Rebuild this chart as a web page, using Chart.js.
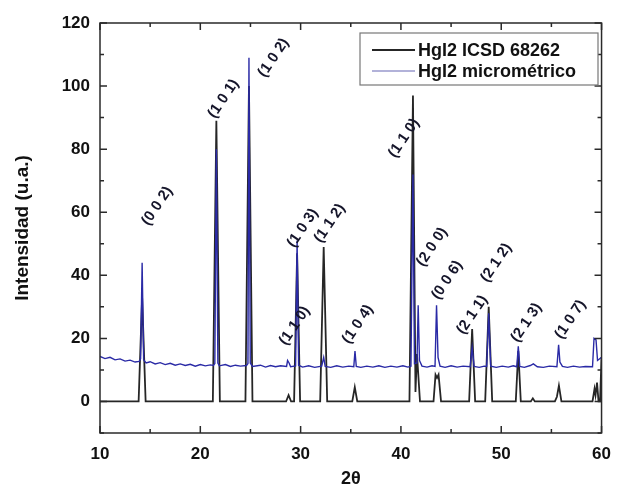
<!DOCTYPE html>
<html>
<head>
<meta charset="utf-8">
<script src="https://cdn.jsdelivr.net/npm/chart.js@4.4.1/dist/chart.umd.min.js"></script>
<style>
  html, body { margin: 0; padding: 0; background: #fff; }
  #wrap { width: 622px; height: 498px; position: relative; }
</style>
</head>
<body>
<div id="wrap"><canvas id="grafico"></canvas></div>
<script>
// HgI2 ICSD 68262 (patron calculado)
const icsdX = [10, 13.85, 14.2, 14.55, 21.25, 21.6, 21.95, 24.5, 24.85, 25.2, 28.55, 28.8, 29.05, 29.35, 29.65, 29.95,
  31.95, 32.3, 32.65, 35.15, 35.4, 35.65, 40.85, 41.2, 41.45, 41.6, 41.9, 43.25, 43.45, 43.6, 43.75, 44.0,
  46.8, 47.1, 47.4, 48.4, 48.75, 49.1, 51.45, 51.7, 51.95, 52.95, 53.15, 53.35, 55.35, 55.55, 55.75, 56.0,
  59.1, 59.3, 59.4, 59.55, 59.7, 59.85, 60];
const icsdY = [0, 0, 33, 0, 0, 89, 0, 0, 100, 0, 0, 2, 0, 0, 47, 0,
  0, 49, 0, 0, 4.5, 0, 0, 97, 3, 15, 0, 0, 8.5, 7.5, 8.5, 0,
  0, 23, 0, 0, 30, 0, 0, 16, 0, 0, 1, 0, 0, 1.5, 5, 0,
  0, 4, 2, 6, 0, 0, 14];

// HgI2 micrometrico (medido)
const microX = [10, 10.5, 11, 11.5, 12, 12.5, 13, 13.5, 13.9, 14.05, 14.2, 14.35, 14.6, 15, 15.5, 16, 16.5, 17, 17.5, 18,
  18.5, 19, 19.5, 20, 20.5, 21, 21.3, 21.45, 21.6, 21.75, 21.9, 22.5, 23, 23.5, 24, 24.6, 24.75, 24.85, 24.98, 25.2,
  26, 26.5, 27, 27.5, 28, 28.6, 28.7, 28.85, 29.0, 29.5, 29.65, 29.8, 30.2, 30.8, 31.4, 32.1, 32.3, 32.45, 33, 33.6,
  34.2, 34.8, 35.3, 35.42, 35.55, 36, 36.6, 37.2, 37.8, 38.4, 39, 39.6, 40.2, 40.7, 41.0, 41.2, 41.35, 41.6, 41.72, 41.85,
  42.1, 42.6, 43.1, 43.4, 43.55, 43.7, 43.9, 44.4, 45, 45.6, 46.2, 46.9, 47.1, 47.3, 47.8, 48.3, 48.55, 48.75, 48.95, 49.5,
  50.1, 50.7, 51.2, 51.55, 51.7, 51.85, 52.3, 52.9, 53.2, 53.6, 54.2, 54.8, 55.55, 55.72, 55.85, 56.1, 56.6, 57.2, 57.8, 58.4,
  59.1, 59.25, 59.45, 59.6, 60];
const microY = [14.3, 13.6, 14.0, 13.2, 13.5, 12.8, 13.1, 12.5, 12.7, 13.5, 44, 13.2, 12.2, 12.6, 11.9, 12.3, 11.7, 12.1, 11.5, 11.9,
  11.4, 11.8, 11.2, 11.7, 11.3, 11.6, 11.4, 12, 80, 12.2, 11.3, 11.7, 11.1, 11.5, 11.2, 11.4, 12, 109, 12.2, 11.1,
  11.5, 10.9, 11.4, 11.0, 11.3, 11.1, 13, 12.2, 11, 11.3, 51, 11.5, 10.9, 11.3, 10.8, 11.2, 14, 11.1, 10.8, 11.3,
  10.9, 11.2, 11, 16, 11.1, 10.8, 11.2, 10.9, 11.3, 10.8, 11.2, 10.9, 11.3, 10.9, 11.2, 72, 12, 12.2, 30.5, 13,
  11.2, 10.9, 11.3, 11.1, 30.5, 14, 11.2, 10.8, 11.3, 10.9, 11.2, 11, 17, 11.1, 10.8, 11.2, 11.1, 28, 11.2, 10.8,
  11.2, 10.9, 11.3, 11, 17.5, 11.1, 10.8, 11.4, 11.9, 11, 10.8, 11.2, 11, 18, 12.5, 11.1, 10.8, 11.2, 10.9, 11.1,
  11, 20, 19.5, 13, 14];

// indices de Miller
const hklText = ['(0 0 2)', '(1 0 1)', '(1 0 2)', '(1 1 0)', '(1 0 3)', '(1 1 2)', '(1 0 4)', '(1 1 0)',
  '(2 0 0)', '(0 0 6)', '(2 1 1)', '(2 1 2)', '(2 1 3)', '(1 0 7)'];
const hklX = [15.7, 22.3, 27.3, 29.4, 30.2, 32.9, 35.7, 40.3, 43.1, 44.6, 47.1, 49.5, 52.5, 56.9];
const hklY = [62, 96, 109, 24, 55, 56.5, 24.5, 83.5, 49, 38.5, 27.5, 44, 25, 26];

const xTicks = [10, 20, 30, 40, 50, 60];
const yTicks = [0, 20, 40, 60, 80, 100, 120];

const corIcsd = '#262626';
const corMicro = '#2a2aa6';
const fonte = '"Liberation Sans", Arial, sans-serif';

const pontos = (xs, ys) => xs.map((x, i) => ({ x: x, y: ys[i] }));

const molduraPlugin = {
    id: 'moldura',
    afterDraw(chart) {
        const ctx = chart.ctx;
        const a = chart.chartArea;
        const sx = chart.scales.x, sy = chart.scales.y;
        ctx.save();
        ctx.strokeStyle = '#2a2a2a';
        ctx.lineWidth = 1.5;
        ctx.strokeRect(a.left, a.top, a.right - a.left, a.bottom - a.top);
        ctx.beginPath();
        for (let v = 10; v <= 60; v += 5) {
            const px = sx.getPixelForValue(v);
            const len = (v % 10 === 0) ? 7 : 4;
            ctx.moveTo(px, a.bottom); ctx.lineTo(px, a.bottom - len);
            ctx.moveTo(px, a.top); ctx.lineTo(px, a.top + len);
        }
        for (let v = -10; v <= 120; v += 10) {
            const py = sy.getPixelForValue(v);
            const len = (v % 20 === 0) ? 7 : 4;
            ctx.moveTo(a.left, py); ctx.lineTo(a.left + len, py);
            ctx.moveTo(a.right, py); ctx.lineTo(a.right - len, py);
        }
        ctx.stroke();

        // etiquetas hkl
        ctx.fillStyle = '#15152a';
        ctx.font = 'bold 15px ' + fonte;
        ctx.textAlign = 'center';
        ctx.textBaseline = 'middle';
        hklText.forEach((t, i) => {
            ctx.save();
            ctx.translate(sx.getPixelForValue(hklX[i]), sy.getPixelForValue(hklY[i]));
            ctx.rotate(-56 * Math.PI / 180);
            ctx.fillText(t, 0, 0);
            ctx.restore();
        });

        // leyenda
        const lx = 360, ly = 33, lw = 238, lh = 52;
        ctx.fillStyle = '#fff';
        ctx.fillRect(lx, ly, lw, lh);
        ctx.strokeStyle = '#777';
        ctx.lineWidth = 1.2;
        ctx.strokeRect(lx, ly, lw, lh);
        const filas = [
            { y: ly + 17, cor: corIcsd, larg: 2, txt: chart.data.datasets[0].label },
            { y: ly + 38, cor: '#9898cc', larg: 1.5, txt: chart.data.datasets[1].label }
        ];
        ctx.font = 'bold 18px ' + fonte;
        ctx.textAlign = 'left';
        filas.forEach(f => {
            ctx.beginPath();
            ctx.strokeStyle = f.cor;
            ctx.lineWidth = f.larg;
            ctx.moveTo(lx + 12, f.y); ctx.lineTo(lx + 55, f.y);
            ctx.stroke();
            ctx.fillStyle = '#111';
            ctx.fillText(f.txt, lx + 58, f.y + 1);
        });
        ctx.restore();
    }
};

const ctx = document.getElementById('grafico').getContext('2d');
const meuGrafico = new Chart(ctx, {
    type: 'line',
    data: {
        datasets: [{
            label: 'HgI2 ICSD 68262',
            data: pontos(icsdX, icsdY),
            borderColor: corIcsd,
            borderWidth: 1.8,
            pointRadius: 0,
            tension: 0,
            order: 1
        }, {
            label: 'HgI2 micrométrico',
            data: pontos(microX, microY),
            borderColor: corMicro,
            borderWidth: 1.4,
            pointRadius: 0,
            tension: 0,
            order: 0
        }]
    },
    options: {
        responsive: true,
        maintainAspectRatio: false,
        animation: false,
        layout: { padding: { top: 23, right: 12, left: 0, bottom: 0 } },
        plugins: { legend: { display: false }, tooltip: { enabled: false } },
        scales: {
            x: {
                type: 'linear', min: 10, max: 60,
                afterBuildTicks: s => { s.ticks = xTicks.map(v => ({ value: v })); },
                afterFit: s => { s.height = 65; },
                grid: { display: false, drawTicks: false },
                border: { display: false },
                ticks: { color: '#111', padding: 11, font: { family: fonte, size: 17, weight: 'bold' } },
                title: { display: true, text: '2θ', color: '#111', padding: { top: 0, bottom: 8 },
                    font: { family: fonte, size: 18, weight: 'bold' } }
            },
            y: {
                type: 'linear', min: -10, max: 120,
                afterBuildTicks: s => { s.ticks = yTicks.map(v => ({ value: v })); },
                afterFit: s => { s.width = 100; },
                grid: { display: false, drawTicks: false },
                border: { display: false },
                ticks: { color: '#111', padding: 10, font: { family: fonte, size: 17, weight: 'bold' } },
                title: { display: true, text: 'Intensidad (u.a.)', color: '#111', padding: { top: 11, bottom: 0 },
                    font: { family: fonte, size: 19, weight: 'bold' } }
            }
        }
    },
    plugins: [molduraPlugin]
});
</script>
</body>
</html>
